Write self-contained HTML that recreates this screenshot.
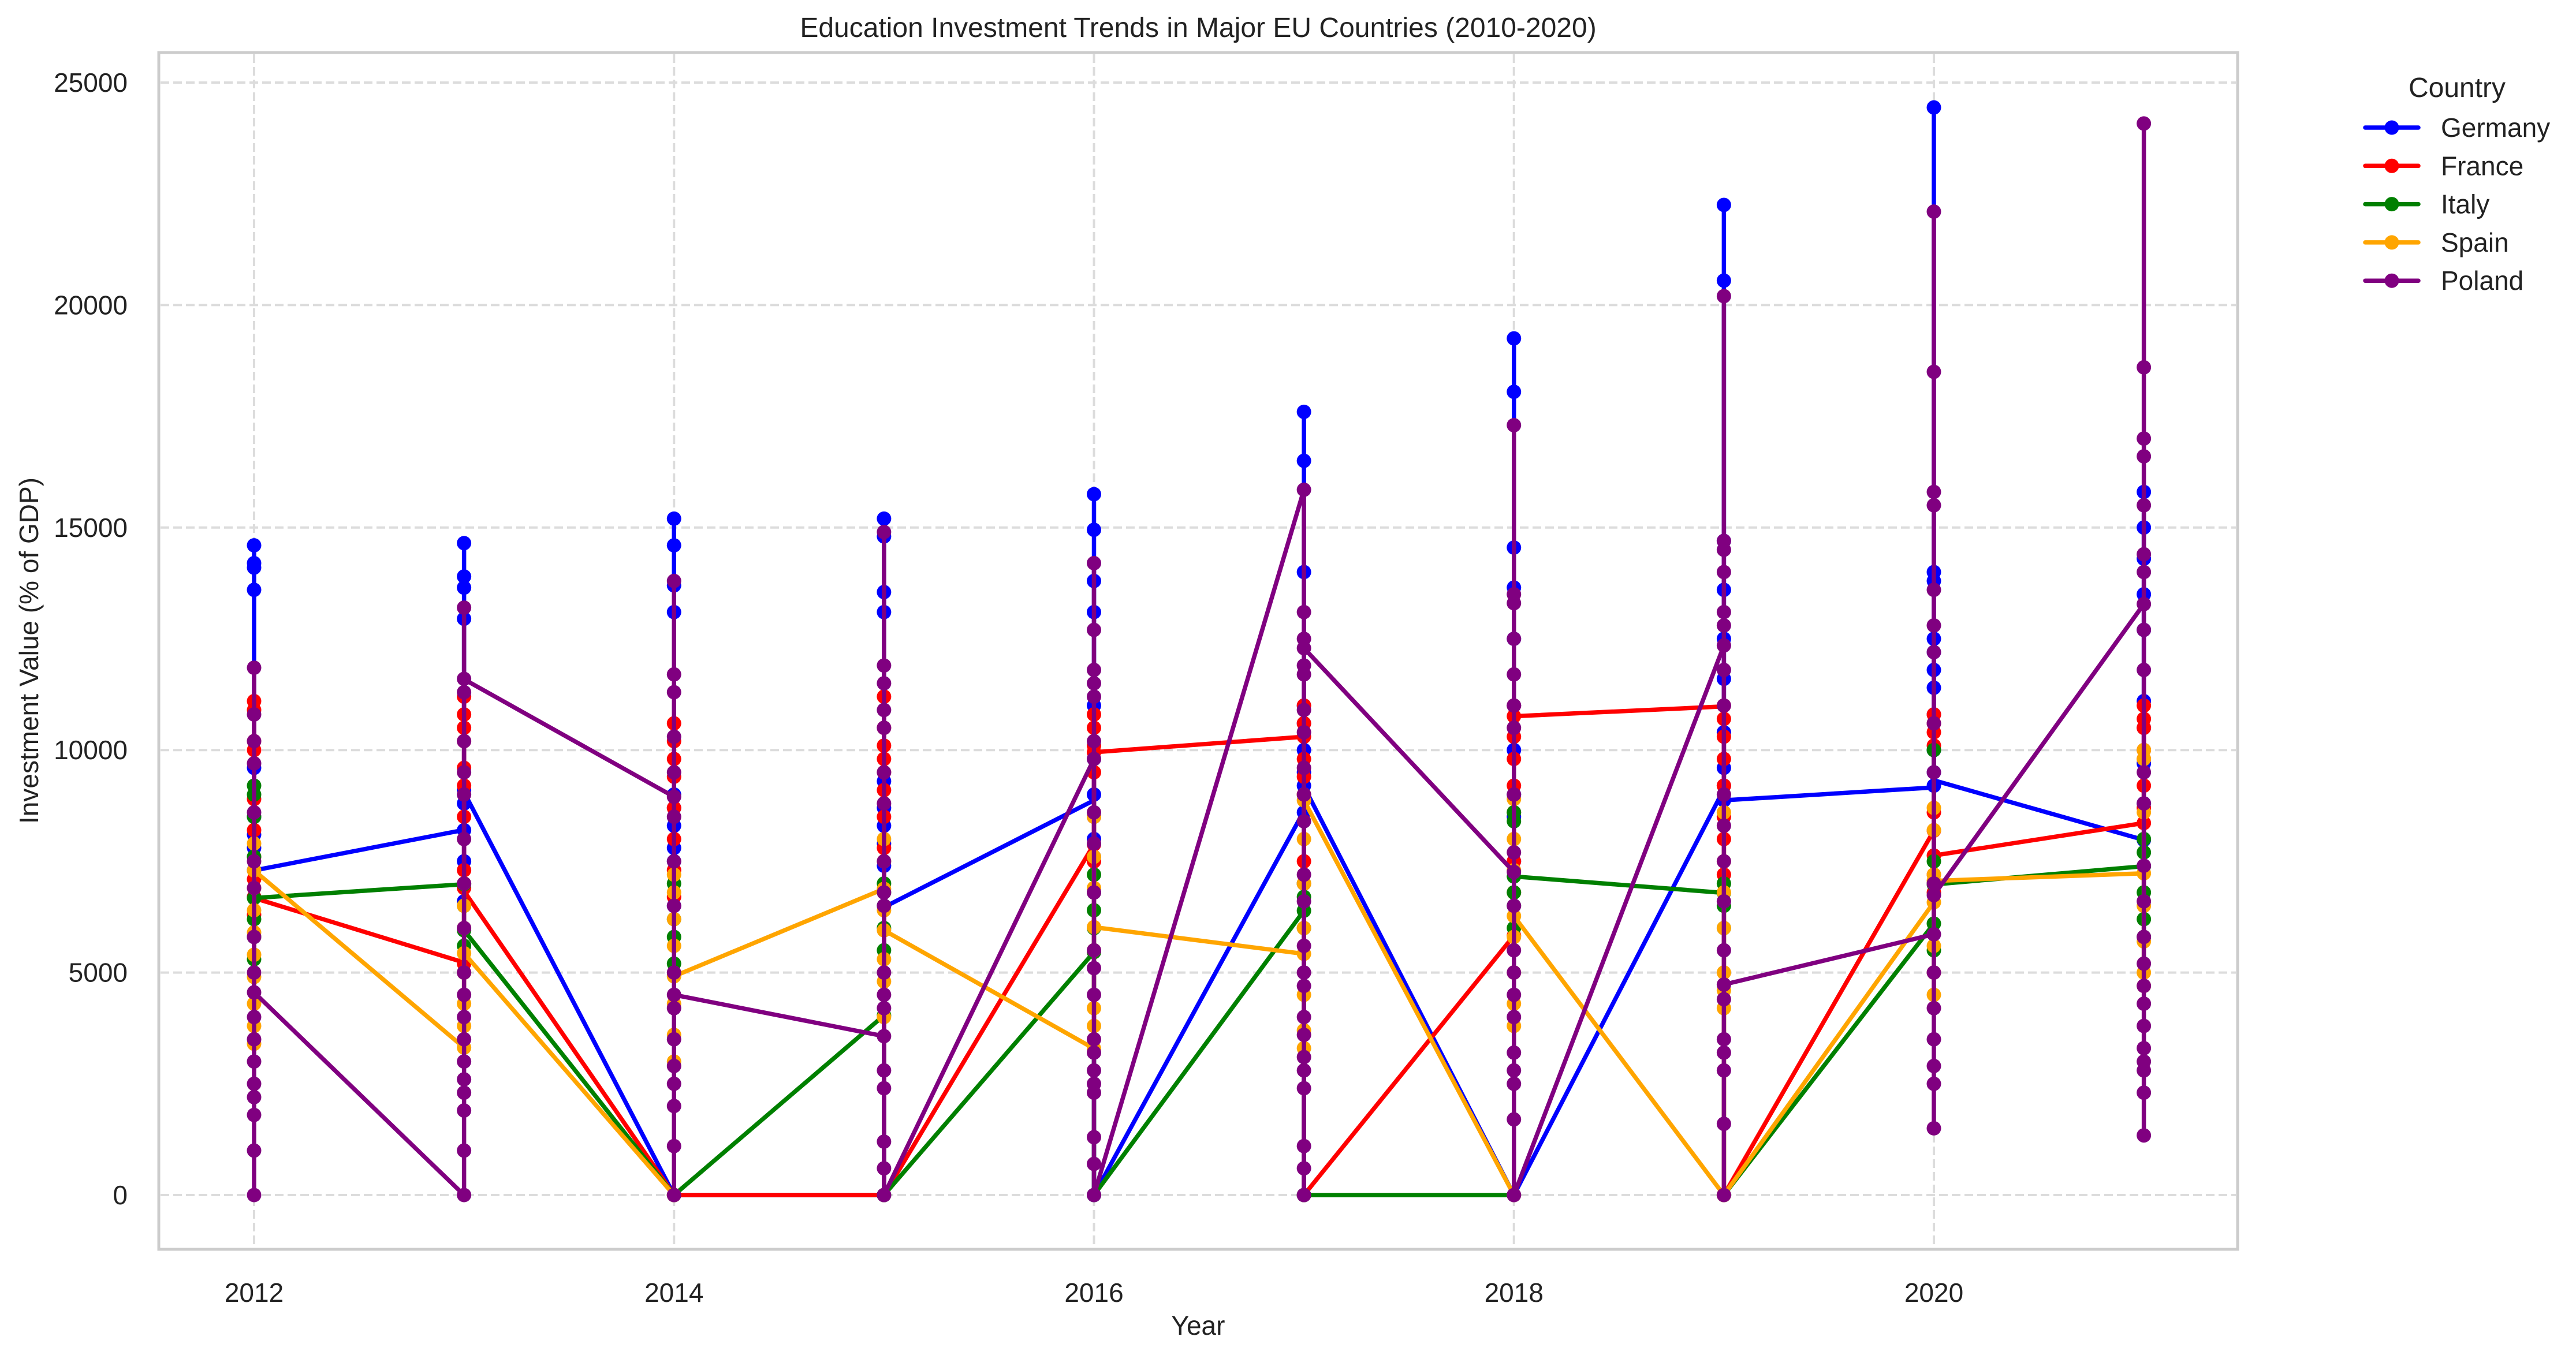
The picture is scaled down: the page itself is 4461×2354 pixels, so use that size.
<!DOCTYPE html>
<html><head><meta charset="utf-8"><title>Education Investment Trends</title>
<style>
html,body{margin:0;padding:0;background:#fff;}
svg{display:block;font-family:"Liberation Sans",Arial,sans-serif;}
</style></head>
<body>
<svg id="chart" width="4461" height="2354" viewBox="0 0 4461 2354" xmlns="http://www.w3.org/2000/svg">
<rect x="0" y="0" width="4461" height="2354" fill="#fff"/>
<g id="grid"></g>
<g id="series"></g>
<rect x="275" y="91" width="3600" height="2073" fill="none" stroke="#cccccc" stroke-width="5"/>
<g id="ticks"></g>
<text x="2075" y="64" text-anchor="middle" font-size="48" fill="#222">Education Investment Trends in Major EU Countries (2010-2020)</text>
<text x="2075" y="2312" text-anchor="middle" font-size="46" fill="#222">Year</text>
<text x="0" y="0" transform="translate(66,1127) rotate(-90)" text-anchor="middle" font-size="46" fill="#222">Investment Value (% of GDP)</text>
<g id="legend">
<text x="4255" y="168" text-anchor="middle" font-size="48" fill="#222">Country</text>
</g>
</svg>
<script>
const years = [2012,2013,2014,2015,2016,2017,2018,2019,2020,2021];
const countries = ["Germany","France","Italy","Spain","Poland"];
const colors = ["#0000ff","#ff0000","#008000","#ffa500","#800080"];
const xTicks = [2012,2014,2016,2018,2020];
const yTicks = [0,5000,10000,15000,20000,25000];

const germanyEntry = [7300,8205,0,0,8870,8630,0,9120,9160,7980];
const germanyExit  = [7295,9053,0,6468,0,9180,0,8870,9320,7980];
const germanyDots = [
 [14600,14200,14100,13600,9600,8500,8100,7800,7300,6700],
 [14650,13900,13650,12950,9100,8800,8200,7500,6600],
 [15200,14600,13700,13100,9000,8700,8300,7800,7500,6500,0],
 [15200,14800,13550,13100,9300,8700,8300,7900,7400,6500,0],
 [15750,14950,13800,13100,11000,9800,9000,8500,8000,7600,0],
 [17600,16500,14000,11000,10600,10000,9500,9200,8600,0],
 [19250,18050,14550,13650,12500,11000,10000,9000,8500,7500,0],
 [22250,20550,14700,13600,12500,11600,10400,9600,9200,8870],
 [24440,14000,13800,12500,12200,11800,11400,10800,10000,9500,9200],
 [15800,15000,14300,13500,12700,11100,10500,9700,8800,7980]
];
const franceEntry = [6675,5226,0,0,7880,10300,5830,10980,8190,8360];
const franceExit  = [6675,6830,0,0,9950,0,10760,0,7630,8360];
const franceDots = [
 [11100,10900,10200,10000,8900,8200,7600,7100,6700,6300],
 [11200,10800,10500,10200,9600,9200,8500,7300,6900,5200],
 [10600,10200,9800,9400,8700,8000,7300,6700,0],
 [11200,10500,10100,9800,9500,9100,8500,7800,0],
 [10800,10500,10100,9950,9500,8500,7880,7500],
 [11000,10600,10300,9800,9400,9000,7500,7000,0],
 [11000,10760,10300,9800,9200,8600,7500,6800,5830],
 [11000,10700,10300,9800,9200,8500,8000,7200,0],
 [10800,10600,10400,10100,8600,8190,7630,7200,6800],
 [11000,10700,10500,10000,9800,9200,8700,8360]
];
const italyEntry = [6675,6985,0,4037,5460,6390,0,6790,6100,7390];
const italyExit  = [6675,5950,0,0,0,0,7160,0,6980,7390];
const italyDots = [
 [9200,9000,8500,7600,6675,6200,5800,5300],
 [7000,6985,6500,5950,5600,5000],
 [7000,6200,5800,5200,0],
 [7000,6800,6500,6000,5500,4037,0],
 [7200,6800,6400,6000,5460,0],
 [7000,6700,6390,6000,0],
 [8600,8400,7160,6800,6500,6000],
 [7000,6790,6500,6000,0],
 [10000,7500,7000,6980,6100,5500],
 [8000,7700,7390,6800,6200,5800]
];
const spainEntry = [7295,3313,0,6881,3290,5420,0,0,6580,7230];
const spainExit  = [7295,5433,4916,5950,6020,8870,6270,0,7060,7230];
const spainDots = [
 [7900,7295,6900,6400,5900,5400,4900,4300,3800,3400],
 [7000,6500,6000,5433,5000,4300,3800,3313],
 [7200,6800,6200,5600,4916,4300,3600,3000,0],
 [8000,7500,6881,6400,5950,5300,4800,4000],
 [8500,7600,6900,6020,5500,4200,3800,3290],
 [9000,8870,8000,7000,6000,5420,4500,3700,3300],
 [8900,8000,7300,6270,5800,5000,4300,3800,0],
 [8600,7500,6800,6000,5000,4600,4200,0],
 [8700,8200,7200,7060,6580,5600,5000,4500],
 [10000,9800,8600,7230,6500,5700,5000,4700]
];
const polandEntry = [4554,0,8950,3570,9800,15850,7260,12350,5860,13280];
const polandExit  = [4554,11590,4500,0,0,12290,0,4730,6740,13280];
const polandDots = [
 [11850,10800,10200,9700,8600,7500,6900,5800,5000,4554,4000,3500,3000,2500,2200,1800,1000,0],
 [13200,11600,11300,10200,9500,9000,8000,7000,6000,5000,4500,4000,3500,3000,2600,2300,1900,1000,0],
 [13800,11700,11300,10300,9500,8950,8500,7500,6500,5000,4500,4200,3500,2900,2500,2000,1100,0],
 [14900,11900,11500,10900,10500,9500,8800,7500,6800,6500,5000,4500,4200,3570,2800,2400,1200,600,0],
 [14200,12700,11800,11500,11200,10200,9800,8600,7900,6800,5500,5100,4500,3500,3200,2800,2500,2300,1300,700,0],
 [15850,13100,12500,12290,11900,11700,10900,10400,9600,9000,8400,7200,6600,5600,5000,4700,4000,3600,3100,2800,2400,1100,600,0],
 [17300,13500,13300,12500,11700,11000,10500,9000,7700,7260,6500,5500,5000,4500,4000,3200,2800,2500,1700,0],
 [20200,14700,14500,14000,13100,12800,12350,11800,11000,9000,8300,7500,6600,5500,4730,4400,3500,3200,2800,1600,0],
 [22100,18500,15800,15500,13600,12800,12200,10600,9500,7000,6740,5860,5000,4200,3500,2900,2500,1500],
 [24080,18600,17000,16600,15500,14400,14000,13280,12700,11800,9500,8800,7400,6600,5800,5200,4700,4300,3800,3300,3000,2800,2300,1340]
];

const entries = [germanyEntry,franceEntry,italyEntry,spainEntry,polandEntry];
const exits = [germanyExit,franceExit,italyExit,spainExit,polandExit];
const dotSets = [germanyDots,franceDots,italyDots,spainDots,polandDots];

const NS = "http://www.w3.org/2000/svg";
const X0 = 440, PX_PER_YEAR = (3349-440)/8;
const Y0 = 2070, PX_PER_UNIT = (2070-143)/25000;
function xScale(yr){ return X0 + (yr-2012)*PX_PER_YEAR; }
function yScale(v){ return Y0 - v*PX_PER_UNIT; }
function mk(tag, attrs){ const e=document.createElementNS(NS,tag); for(const k in attrs) e.setAttribute(k, attrs[k]); return e; }

const grid = document.getElementById('grid');
const ticks = document.getElementById('ticks');
for (const t of yTicks){
  const gl = mk('line',{x1:278,x2:3872,y1:yScale(t),y2:yScale(t),stroke:'#dcdcdc','stroke-width':4,'stroke-dasharray':'15 7'});
  
  
  grid.appendChild(gl);
  const tl = mk('text',{x:221,y:yScale(t)+16,'text-anchor':'end','font-size':46,fill:'#222'});
  tl.textContent = t;
  
  
  ticks.appendChild(tl);
}
for (const t of xTicks){
  const gl = mk('line',{x1:xScale(t),x2:xScale(t),y1:94,y2:2161,stroke:'#dcdcdc','stroke-width':4,'stroke-dasharray':'15 7'});
  
  
  grid.appendChild(gl);
  const tl = mk('text',{x:xScale(t),y:2255,'text-anchor':'middle','font-size':46,fill:'#222'});
  tl.textContent = t;
  
  
  ticks.appendChild(tl);
}

const series = document.getElementById('series');
countries.forEach((c, ci)=>{
  const g = mk('g',{});
  
  
  const pts = [];
  years.forEach((yr, yi)=>{
    const d = dotSets[ci][yi];
    const mx = Math.max(...d), mn = Math.min(...d);
    const x = xScale(yr);
    if (yi>0) pts.push([x, yScale(entries[ci][yi])]);
    pts.push([x, yScale(mx)]);
    pts.push([x, yScale(mn)]);
    if (yi<years.length-1) pts.push([x, yScale(exits[ci][yi])]);
  });
  const pl = mk('polyline',{points: pts.map(p=>p.join(',')).join(' '), fill:'none', stroke:colors[ci], 'stroke-width':7.5, 'stroke-linejoin':'round','stroke-linecap':'round'});
  
  
  g.appendChild(pl);
  years.forEach((yr, yi)=>{
    dotSets[ci][yi].forEach(v=>{
      const ci2 = mk('circle',{cx:xScale(yr), cy:yScale(v), r:12.5, fill:colors[ci]});
      
      
      g.appendChild(ci2);
    });
  });
  series.appendChild(g);
});

const legend = document.getElementById('legend');
countries.forEach((c, ci)=>{
  const cy = 221 + ci*66.3;
  const g = mk('g',{});
  
  
  g.appendChild(mk('line',{x1:4096,x2:4188,y1:cy,y2:cy,stroke:colors[ci],'stroke-width':7.5,'stroke-linecap':'round'}));
  g.appendChild(mk('circle',{cx:4142,cy:cy,r:12.5,fill:colors[ci]}));
  const t = mk('text',{x:4227,y:cy+16,'font-size':46,fill:'#222'});
  t.textContent = c;
  g.appendChild(t);
  legend.appendChild(g);
});
</script>
</body></html>
